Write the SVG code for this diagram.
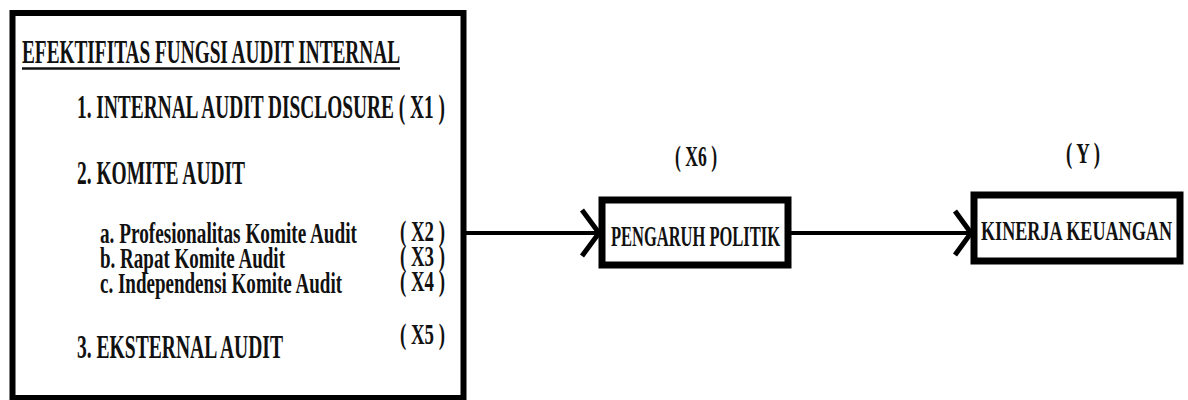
<svg xmlns="http://www.w3.org/2000/svg" width="1188" height="400" viewBox="0 0 1188 400">
<style>
  .t { font-family: "Liberation Serif", "Times New Roman", serif; font-weight: bold; fill: #111; }
  .box { fill: #fff; stroke: #000; }
  .conn { stroke: #000; stroke-width: 4; fill: none; }
  .head { stroke: #000; stroke-width: 5; fill: none; stroke-linecap: butt; }
</style>
<rect width="1188" height="400" fill="#fff"/>
<g id="node-audit-internal">
  <rect class="box" x="12.5" y="13" width="451" height="385" stroke-width="6"/>
  <text class="t" x="22" y="63" font-size="33" textLength="378" lengthAdjust="spacingAndGlyphs">EFEKTIFITAS FUNGSI AUDIT INTERNAL</text>
  <line x1="22" y1="68.5" x2="400" y2="68.5" stroke="#111" stroke-width="2.5"/>
  <text class="t" x="77" y="118" font-size="34" textLength="368" lengthAdjust="spacingAndGlyphs">1. INTERNAL AUDIT DISCLOSURE ( X1 )</text>
  <text class="t" x="77" y="184" font-size="34" textLength="168" lengthAdjust="spacingAndGlyphs">2. KOMITE AUDIT</text>
  <text class="t" x="100" y="243" font-size="30" textLength="257" lengthAdjust="spacingAndGlyphs">a. Profesionalitas Komite Audit</text>
  <text class="t" x="400" y="241" font-size="30" textLength="45" lengthAdjust="spacingAndGlyphs">( X2 )</text>
  <text class="t" x="100" y="268" font-size="30" textLength="185" lengthAdjust="spacingAndGlyphs">b. Rapat Komite Audit</text>
  <text class="t" x="400" y="266" font-size="30" textLength="45" lengthAdjust="spacingAndGlyphs">( X3 )</text>
  <text class="t" x="100" y="293" font-size="30" textLength="242" lengthAdjust="spacingAndGlyphs">c. Independensi Komite Audit</text>
  <text class="t" x="400" y="291" font-size="30" textLength="45" lengthAdjust="spacingAndGlyphs">( X4 )</text>
  <text class="t" x="77" y="358" font-size="33" textLength="206" lengthAdjust="spacingAndGlyphs">3. EKSTERNAL AUDIT</text>
  <text class="t" x="400" y="344" font-size="30" textLength="45" lengthAdjust="spacingAndGlyphs">( X5 )</text>
</g>
<g id="node-pengaruh-politik">
  <rect class="box" x="602" y="200" width="186" height="65" stroke-width="7"/>
  <text class="t" x="611" y="246" font-size="30" textLength="169" lengthAdjust="spacingAndGlyphs">PENGARUH POLITIK</text>
  <text class="t" x="675" y="166" font-size="30" textLength="42" lengthAdjust="spacingAndGlyphs">( X6 )</text>
</g>
<g id="node-kinerja-keuangan">
  <rect class="box" x="974" y="195" width="206" height="66" stroke-width="7"/>
  <text class="t" x="981" y="240" font-size="28" textLength="191" lengthAdjust="spacingAndGlyphs">KINERJA KEUANGAN</text>
  <text class="t" x="1066" y="163" font-size="30" textLength="34" lengthAdjust="spacingAndGlyphs">( Y )</text>
</g>
<g id="connectors">
  <line class="conn" x1="466" y1="233" x2="598" y2="233"/>
  <polyline class="head" points="582,210 599,233 582,256"/>
  <line class="conn" x1="791" y1="233" x2="970" y2="233"/>
  <polyline class="head" points="955,211 971,233 955,255"/>
</g>
</svg>
